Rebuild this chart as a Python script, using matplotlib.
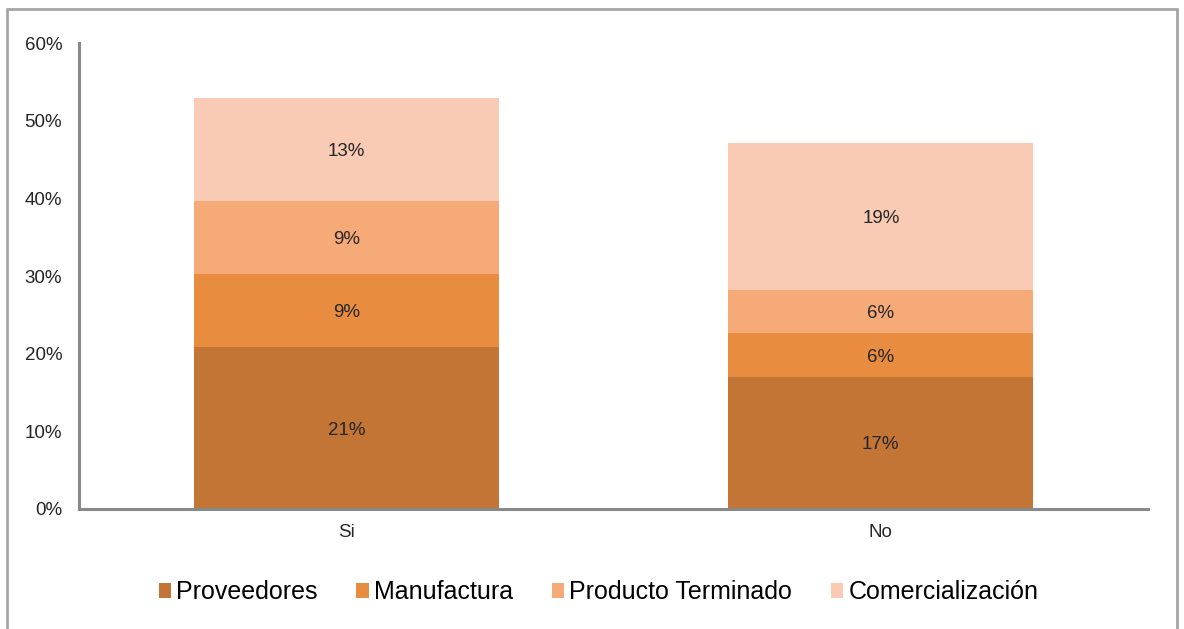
import matplotlib.pyplot as plt
import numpy as np
from matplotlib.patches import Rectangle

plt.rcParams["font.family"] = ["Liberation Sans", "DejaVu Sans"]

categories = ["Si", "No"]
series_names = ["Proveedores", "Manufactura", "Producto Terminado", "Comercialización"]
proveedores = [20.8, 17.0]
manufactura = [9.4, 5.6]
producto_terminado = [9.4, 5.6]
comercializacion = [13.3, 18.9]
y_ticks = [0, 10, 20, 30, 40, 50, 60]

colors = ["#C37535", "#E88C3F", "#F5AA78", "#F9CBB4"]
series = [proveedores, manufactura, producto_terminado, comercializacion]

fig = plt.figure(figsize=(11.84, 6.29), dpi=100)
ax = fig.add_axes([0.0667, 0.1908, 0.903, 0.7408])

# outer frame around the whole chart
fig.patches.append(Rectangle((0.006, -0.05), 0.988, 1.036, transform=fig.transFigure,
                             fill=False, edgecolor="#A6A6A6", linewidth=2))

x = np.arange(len(categories))
bottom = np.zeros(len(categories))
for name, vals, col in zip(series_names, series, colors):
    vals = np.array(vals)
    ax.bar(x, vals, 0.57, bottom=bottom, color=col, label=name, linewidth=0)
    for xi, b, v in zip(x, bottom, vals):
        ax.text(xi, b + v / 2, f"{v:.0f}%", ha="center", va="center_baseline",
                fontsize=13.5, color="#262626")
    bottom += vals

ax.set_xlim(-0.5, 1.5)
ax.set_ylim(0, 60)
ax.set_yticks(y_ticks)
ax.set_yticklabels([f"{t}%" for t in y_ticks], fontsize=13.5, color="#262626")
ax.set_xticks(x)
ax.set_xticklabels(categories, fontsize=13.5, color="#262626")
ax.tick_params(length=0, pad=12, axis="y")
ax.tick_params(length=0, pad=11, axis="x")

for s in ["top", "right"]:
    ax.spines[s].set_visible(False)
for s in ["left", "bottom"]:
    ax.spines[s].set_color("#898989")
    ax.spines[s].set_linewidth(2.2)

ax.legend(loc="upper center", bbox_to_anchor=(0.486, -0.105), ncol=4, frameon=False,
          fontsize=18, handlelength=0.5, handleheight=0.5, handletextpad=0.2,
          columnspacing=1.55)

fig.savefig("out.png", dpi=100)
